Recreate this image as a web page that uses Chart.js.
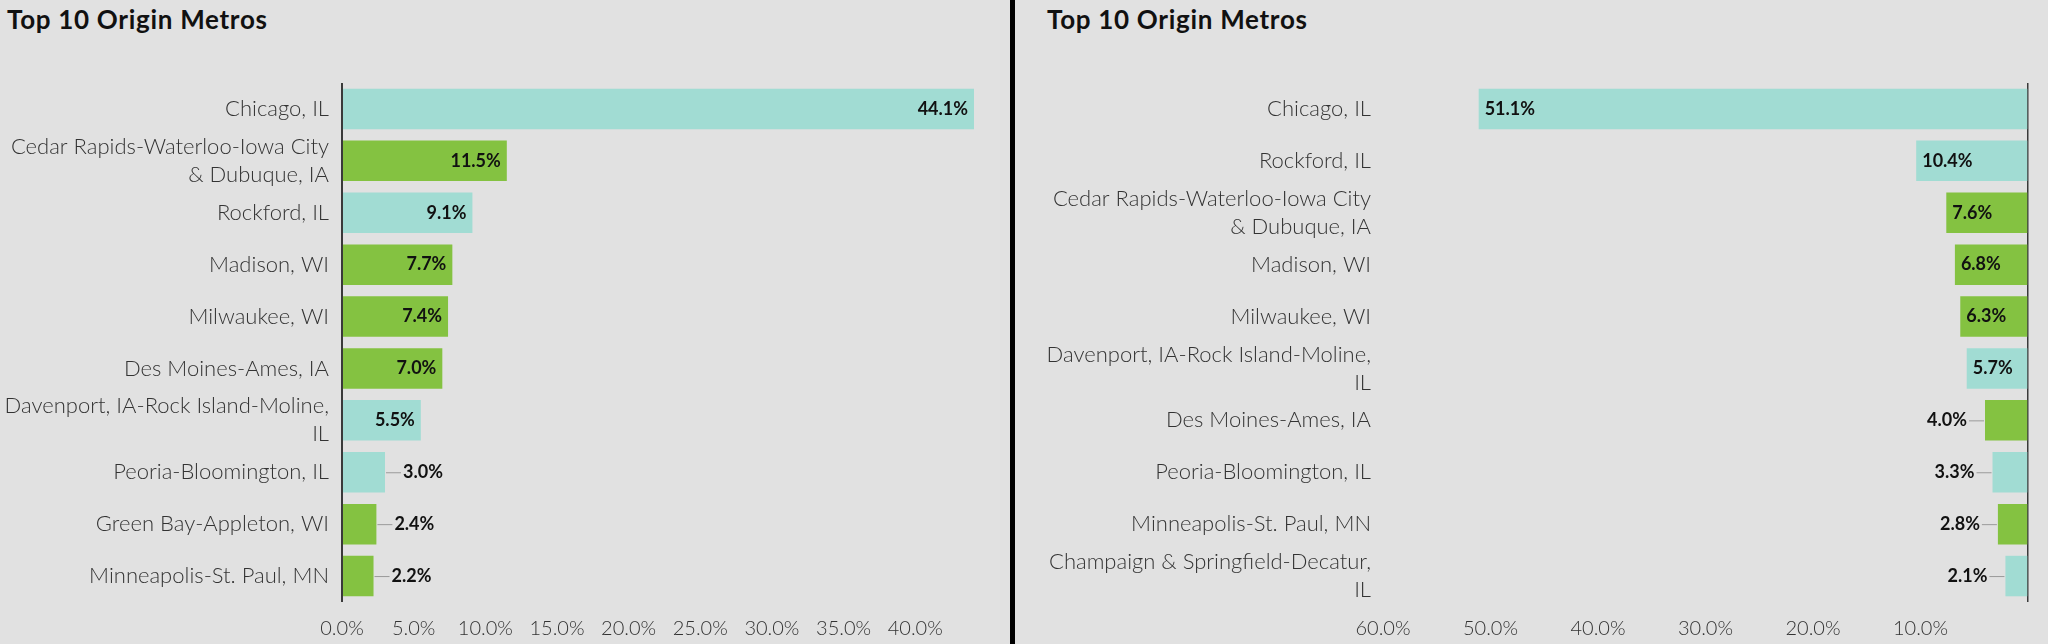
<!DOCTYPE html>
<html>
<head>
<meta charset="utf-8">
<script src="https://cdn.jsdelivr.net/npm/chart.js@4.4.1/dist/chart.umd.min.js"></script>
<style>
  html, body { margin: 0; padding: 0; background: #e1e1e1; }
  #wrap { position: relative; width: 2048px; height: 644px; overflow: hidden; }
  .panel { position: absolute; top: 0; height: 644px; }
  #leftPanel { left: 0; width: 1010px; }
  #sep { position: absolute; left: 1010px; top: 0; width: 5px; height: 644px; background: #000; }
  #rightPanel { left: 1015px; width: 1033px; }
  .title { position: absolute; top: 3px; font: bold 26px Lato, sans-serif; letter-spacing: 0.7px; color: #111; white-space: nowrap; }
  canvas { position: absolute; left: 0; top: 0; }
</style>
</head>
<body>
<div id="wrap">
  <div class="panel" id="leftPanel">
    <div class="title" style="left:7px">Top 10 Origin Metros</div>
    <canvas id="leftChart" width="1010" height="644"></canvas>
  </div>
  <div id="sep"></div>
  <div class="panel" id="rightPanel">
    <div class="title" style="left:32px">Top 10 Origin Metros</div>
    <canvas id="rightChart" width="1033" height="644"></canvas>
  </div>
</div>
<script>
// ---- data ----
const leftLabels = [
    'Chicago, IL',
    ['Cedar Rapids-Waterloo-Iowa City', '& Dubuque, IA'],
    'Rockford, IL',
    'Madison, WI',
    'Milwaukee, WI',
    'Des Moines-Ames, IA',
    ['Davenport, IA-Rock Island-Moline,', 'IL'],
    'Peoria-Bloomington, IL',
    'Green Bay-Appleton, WI',
    'Minneapolis-St. Paul, MN'
];
const leftValues = [44.1, 11.5, 9.1, 7.7, 7.4, 7.0, 5.5, 3.0, 2.4, 2.2];

const rightLabels = [
    'Chicago, IL',
    'Rockford, IL',
    ['Cedar Rapids-Waterloo-Iowa City', '& Dubuque, IA'],
    'Madison, WI',
    'Milwaukee, WI',
    ['Davenport, IA-Rock Island-Moline,', 'IL'],
    'Des Moines-Ames, IA',
    'Peoria-Bloomington, IL',
    'Minneapolis-St. Paul, MN',
    ['Champaign & Springfield-Decatur,', 'IL']
];
const rightValues = [51.1, 10.4, 7.6, 6.8, 6.3, 5.7, 4.0, 3.3, 2.8, 2.1];

const leftTicks = [0, 5, 10, 15, 20, 25, 30, 35, 40];
const rightTicks = [0, 10, 20, 30, 40, 50, 60];

// Illinois metros are teal, the rest green
const TEAL = '#a1dcd3';
const GREEN = '#84c241';
function barColors(labels) {
    return labels.map(l => {
        const s = Array.isArray(l) ? l.join(' ') : l;
        return /IL$/.test(s) ? TEAL : GREEN;
    });
}

Chart.defaults.font.family = 'Lato, sans-serif';
Chart.defaults.color = '#333';

// value labels: inside the bar end when they fit, else outside with a small leader line
const valueLabels = {
    id: 'valueLabels',
    afterDatasetsDraw(chart) {
        const ctx = chart.ctx;
        const meta = chart.getDatasetMeta(0);
        const data = chart.data.datasets[0].data;
        ctx.save();
        ctx.font = 'bold 18px Lato, sans-serif';
        ctx.fillStyle = '#111';
        ctx.textBaseline = 'middle';
        meta.data.forEach((bar, i) => {
            const txt = data[i].toFixed(1) + '%';
            const w = ctx.measureText(txt).width;
            const dir = bar.x >= bar.base ? 1 : -1;
            const len = Math.abs(bar.x - bar.base);
            if (len >= w + 12) {
                ctx.textAlign = dir > 0 ? 'right' : 'left';
                ctx.fillText(txt, bar.x - dir * 6, bar.y);
            } else {
                ctx.strokeStyle = '#9a9a9a';
                ctx.lineWidth = 1;
                ctx.beginPath();
                ctx.moveTo(bar.x + dir * 1, bar.y + 0.5);
                ctx.lineTo(bar.x + dir * 16, bar.y + 0.5);
                ctx.stroke();
                ctx.textAlign = dir > 0 ? 'left' : 'right';
                ctx.fillText(txt, bar.x + dir * 18, bar.y);
            }
        });
        ctx.restore();
    }
};

function makeChart(id, labels, values, opts) {
    return new Chart(document.getElementById(id), {
        type: 'bar',
        data: {
            labels,
            datasets: [{
                data: values,
                backgroundColor: barColors(labels),
                borderWidth: 0,
                categoryPercentage: 1,
                barPercentage: 0.78
            }]
        },
        options: {
            indexAxis: 'y',
            responsive: false,
            animation: false,
            layout: { padding: { top: 83, right: opts.padRight, bottom: 0, left: 0 } },
            plugins: { legend: { display: false }, tooltip: { enabled: false } },
            scales: {
                x: {
                    min: 0,
                    max: opts.max,
                    reverse: opts.reverse,
                    afterBuildTicks: s => { s.ticks = opts.ticks.map(v => ({ value: v })); },
                    afterFit: s => { s.height = 42; },
                    border: { display: false },
                    grid: {
                        drawTicks: false,
                        lineWidth: opts.axisWidth,
                        color: c => (c.tick && c.tick.value === 0) ? '#3a3a3a' : 'rgba(0,0,0,0)'
                    },
                    ticks: {
                        padding: 15,
                        color: '#333',
                        font: { size: 20, weight: 300 },
                        callback: v => (opts.hideZero && v === 0) ? '' : v.toFixed(1) + '%'
                    }
                },
                y: {
                    afterFit: s => { s.width = opts.axisLeft; },
                    border: { display: false },
                    grid: { display: false },
                    ticks: {
                        autoSkip: false,
                        padding: opts.labelPad,
                        color: '#333',
                        font: { size: 22, weight: 300, lineHeight: 1.27 }
                    }
                }
            }
        },
        plugins: [valueLabels]
    });
}

makeChart('leftChart', leftLabels, leftValues,
    { max: 44.1, reverse: false, ticks: leftTicks, padRight: 36, axisLeft: 342, labelPad: 5, axisWidth: 2, hideZero: false });
makeChart('rightChart', rightLabels, rightValues,
    { max: 60, reverse: true, ticks: rightTicks, padRight: 20, axisLeft: 368, labelPad: 4, axisWidth: 1.5, hideZero: true });
</script>
</body>
</html>
